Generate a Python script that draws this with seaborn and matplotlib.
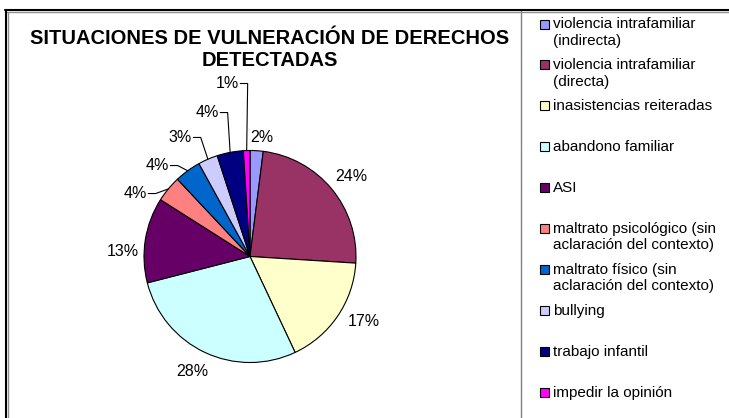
import numpy as np
import matplotlib.pyplot as plt
import seaborn as sns
from matplotlib.lines import Line2D
from matplotlib.patches import Rectangle

# datos
categorias = [
    "violencia intrafamiliar\n(indirecta)",
    "violencia intrafamiliar\n(directa)",
    "inasistencias reiteradas",
    "abandono familiar",
    "ASI",
    "maltrato psicológico (sin\naclaración del contexto)",
    "maltrato físico (sin\naclaración del contexto)",
    "bullying",
    "trabajo infantil",
    "impedir la opinión",
]
porcentajes = [2, 24, 17, 28, 13, 4, 4, 3, 4, 1]
colores = ["#9999FF", "#993366", "#FFFFCC", "#CCFFFF", "#660066",
           "#FF8080", "#0066CC", "#CCCCFF", "#000080", "#FF00FF"]

# posicion de las etiquetas (en radios del pie) y si llevan linea guia
pos_etiquetas = [(0.11, 1.12), (0.96, 0.755), (1.07, -0.61), (-0.54, -1.085),
                 (-1.20, 0.05), (-1.085, 0.594), (-0.877, 0.858), (-0.66, 1.123),
                 (-0.406, 1.358), (-0.217, 1.632)]
con_guia = [False, False, False, False, False, True, True, True, True, True]

sns.set_theme(style="white")
plt.rcParams['font.family'] = ['Liberation Sans', 'DejaVu Sans']

W, H = 729, 418
fig = plt.figure(figsize=(W / 100, H / 100), dpi=100)

# pie
cx, cy, r = 250, 256.5, 106
ax = fig.add_axes([(cx - r) / W, (H - cy - r) / H, 2 * r / W, 2 * r / H])
wedges, _ = ax.pie(porcentajes, colors=colores, startangle=90, counterclock=False,
                   wedgeprops=dict(edgecolor="black", linewidth=0.8))
ax.set_xlim(-1, 1)
ax.set_ylim(-1, 1)
ax.axis("off")

for w, p, (lx, ly), guia in zip(wedges, porcentajes, pos_etiquetas, con_guia):
    ax.text(lx, ly, f"{p}%", ha="center", va="center", fontsize=11.5, color="black")
    if guia:
        ang = np.deg2rad((w.theta1 + w.theta2) / 2)
        ex, ey = np.cos(ang), np.sin(ang)
        ax.plot([lx + 0.125, lx + 0.195, ex], [ly, ly, ey], color="black",
                lw=0.8, clip_on=False)

# titulo
fig.text(270 / W, 1 - 38 / H, "SITUACIONES DE VULNERACIÓN DE DERECHOS",
         ha="center", va="center", fontsize=14.5, weight="bold", color="black")
fig.text(270 / W, 1 - 61 / H, "DETECTADAS",
         ha="center", va="center", fontsize=14.5, weight="bold", color="black")

# leyenda
for i, (lab, col) in enumerate(zip(categorias, colores)):
    y = 24 + i * 40.9
    fig.add_artist(Rectangle((540 / W, 1 - (y + 4.5) / H), 9 / W, 9 / H,
                             transform=fig.transFigure, fc=col, ec="black", lw=0.8))
    fig.text(553 / W, 1 - (y - 6.5) / H, lab, ha="left", va="top",
             fontsize=11, linespacing=1.2, color="black")

# bordes
fig.add_artist(Line2D([521 / W, 521 / W], [1 - 10 / H, 0], transform=fig.transFigure,
                      color="#808080", lw=1))
fig.add_artist(Line2D([5 / W, 1], [1 - 9.5 / H, 1 - 9.5 / H], transform=fig.transFigure,
                      color="black", lw=1.5))
fig.add_artist(Line2D([5 / W, 1], [1 - 11.5 / H, 1 - 11.5 / H], transform=fig.transFigure,
                      color="#909090", lw=1))
fig.add_artist(Line2D([5.5 / W, 5.5 / W], [1 - 9.5 / H, 0], transform=fig.transFigure,
                      color="black", lw=1.5))
fig.add_artist(Line2D([7.5 / W, 7.5 / W], [1 - 11.5 / H, 0], transform=fig.transFigure,
                      color="#909090", lw=1))

fig.savefig("out.png", dpi=100)
